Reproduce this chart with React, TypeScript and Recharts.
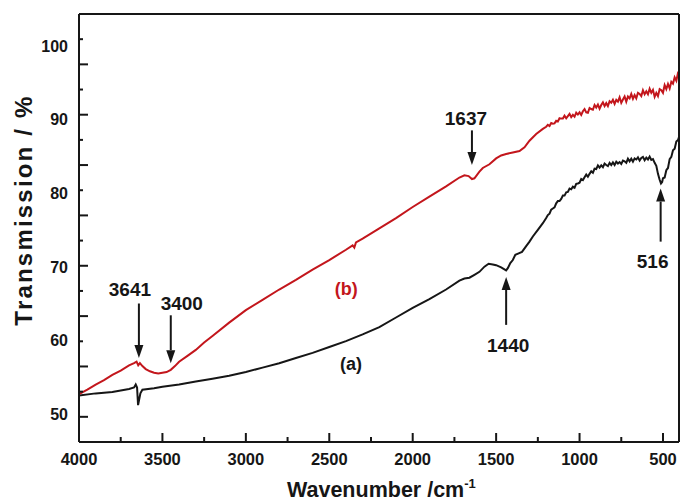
import React from 'react';
import { LineChart, Line, XAxis, YAxis, ReferenceLine, ReferenceDot } from 'recharts';

const FONT = '"Liberation Sans", Arial, Helvetica, sans-serif';
const INK = '#161616';
const RED = '#c3161c';

// wavenumber ticks (cm-1): long ticks with labels every 500, short ones between
const xTicks = [4000, 3750, 3500, 3250, 3000, 2750, 2500, 2250, 2000, 1750, 1500, 1250, 1000, 750, 500];
// transmission labels (%)
const yLabelTicks = [50, 60, 70, 80, 90, 100];
// tick marks along the left axis (own scale, long on even steps)
const yMarkTicks = [0, 1, 2, 3, 4, 5, 6, 7, 8, 9, 10, 11, 12, 13, 14, 15];

// spectrum (a): [wavenumber, transmission]
const curveA: [number, number][] = [
  [4000, 52.5], [3900, 52.8], [3800, 53.0], [3700, 53.4], [3670, 53.6], [3660, 54.0], [3652, 53.6],
  [3646, 51.2], [3640, 51.9], [3632, 52.8], [3620, 53.3], [3550, 53.5], [3500, 53.7], [3400, 54.0],
  [3300, 54.4], [3200, 54.8], [3100, 55.2], [3000, 55.7], [2900, 56.3], [2800, 56.9], [2700, 57.6],
  [2600, 58.3], [2500, 59.1], [2400, 59.9], [2300, 60.8], [2200, 61.8], [2100, 63.1], [2000, 64.4],
  [1900, 65.6], [1800, 66.9], [1720, 68.1], [1690, 68.4], [1660, 68.5], [1630, 68.9], [1600, 69.3],
  [1570, 70.0], [1545, 70.4], [1520, 70.3], [1500, 70.2], [1470, 69.9], [1440, 69.5], [1430, 69.8],
  [1415, 70.5], [1400, 70.9], [1385, 71.6], [1365, 71.8], [1345, 72.0], [1320, 72.8], [1300, 73.4],
  [1280, 74.1], [1250, 75.0], [1220, 75.9], [1200, 76.6],
  [1190, 77.0], [1180, 77.2], [1170, 77.75], [1160, 77.9], [1150, 78.05], [1140, 78.6], [1130, 78.9],
  [1120, 78.9], [1110, 79.2], [1100, 79.65], [1090, 79.65], [1080, 80.1], [1070, 80.15], [1060, 80.6],
  [1050, 80.5], [1040, 80.85], [1030, 80.7], [1020, 81.25], [1010, 81.3], [1000, 81.4], [990, 81.9],
  [980, 81.75], [970, 82.15], [960, 82.5], [950, 82.2], [940, 82.6], [930, 82.95], [920, 82.75],
  [910, 83.3], [900, 83.25], [890, 83.75], [880, 83.45], [870, 83.75], [860, 83.5], [850, 84.0],
  [840, 83.8], [830, 83.65], [820, 84.1], [810, 83.8], [800, 84.15], [790, 83.8], [780, 84.25],
  [770, 84.0], [760, 84.2], [750, 83.95], [740, 84.4], [730, 84.3], [720, 84.1], [710, 84.65],
  [700, 84.3], [690, 84.65], [680, 84.25], [670, 84.7], [660, 84.55], [650, 84.85], [640, 84.4],
  [630, 84.75], [620, 84.9], [610, 84.45], [600, 84.8], [590, 84.55], [580, 84.95], [570, 84.5],
  [560, 84.6], [550, 84.1], [540, 83.7], [530, 82.6], [520, 81.8], [512, 81.3], [505, 81.5],
  [500, 82.0], [490, 82.1], [480, 83.1], [470, 83.4], [460, 84.6], [450, 84.9], [440, 85.8],
  [430, 86.0], [420, 87.0], [410, 87.2], [404, 87.6],
];

// spectrum (b): [wavenumber, transmission]
const curveB: [number, number][] = [
  [4000, 52.7], [3950, 53.3], [3900, 54.0], [3850, 54.6], [3800, 55.3], [3750, 55.9], [3700, 56.6],
  [3670, 56.9], [3655, 57.1], [3645, 56.6], [3635, 56.9], [3620, 56.5], [3600, 56.1], [3575, 55.8],
  [3550, 55.6], [3525, 55.5], [3500, 55.6], [3475, 55.7], [3450, 56.0], [3425, 56.5], [3400, 57.1],
  [3350, 57.9], [3300, 58.7], [3250, 59.7], [3200, 60.6], [3100, 62.4], [3000, 64.1], [2900, 65.5],
  [2800, 66.9], [2700, 68.2], [2600, 69.6], [2500, 70.9], [2400, 72.3], [2360, 72.9], [2350, 72.6],
  [2340, 73.3], [2300, 73.8], [2200, 75.2], [2100, 76.6], [2000, 78.1], [1900, 79.5], [1800, 80.9],
  [1720, 82.1], [1690, 82.4], [1665, 82.3], [1645, 81.9], [1630, 82.0], [1600, 82.9], [1580, 83.4],
  [1540, 83.9], [1500, 84.7], [1470, 85.1], [1440, 85.3], [1400, 85.5], [1360, 85.7], [1330, 86.2],
  [1300, 87.1], [1260, 88.0], [1220, 88.7], [1200, 89.0],
  [1190, 89.25], [1180, 89.1], [1170, 89.5], [1160, 89.4], [1150, 89.45], [1140, 89.8], [1130, 89.7],
  [1120, 90.15], [1110, 90.1], [1100, 90.1], [1090, 90.5], [1080, 90.15], [1070, 90.45], [1060, 90.75],
  [1050, 90.3], [1040, 90.6], [1030, 90.35], [1020, 90.9], [1010, 90.65], [1000, 90.95], [990, 90.6],
  [980, 91.1], [970, 91.4], [960, 90.95], [950, 90.9], [940, 91.55], [930, 91.4], [920, 91.3],
  [910, 91.95], [900, 91.6], [890, 92.0], [880, 91.45], [870, 91.95], [860, 92.3], [850, 91.8],
  [840, 92.2], [830, 91.8], [820, 92.45], [810, 92.25], [800, 92.65], [790, 92.1], [780, 92.65],
  [770, 92.4], [760, 93.0], [750, 92.25], [740, 92.7], [730, 93.1], [720, 92.4], [710, 93.1],
  [700, 92.85], [690, 93.45], [680, 92.8], [670, 93.3], [660, 92.85], [650, 93.6], [640, 93.45],
  [630, 93.15], [620, 93.95], [610, 93.4], [600, 93.8], [590, 93.4], [580, 94.15], [570, 93.6],
  [560, 94.0], [550, 93.05], [540, 93.6], [530, 93.15], [520, 94.1], [510, 93.95], [500, 93.6],
  [490, 94.65], [480, 94.1], [470, 94.8], [460, 94.2], [450, 95.1], [440, 94.85], [430, 95.7],
  [420, 95.25], [410, 96.3], [404, 96.2],
];

// peak markers: arrow from tail to tip, text placed relative to the tail
const peaks = [
  { text: '3641', wn: 3641, tail: 65.0, tip: 57.6, dx: -9, dy: -8 },
  { text: '3400', wn: 3450, tail: 63.4, tip: 56.9, dx: 11, dy: -5 },
  { text: '1637', wn: 1645, tail: 88.5, tip: 83.8, dx: -6, dy: -5 },
  { text: '1440', wn: 1440, tail: 62.1, tip: 68.6, dx: 2, dy: 27 },
  { text: '516', wn: 514, tail: 73.4, tip: 80.6, dx: -8, dy: 26 },
];

const toRows = (pts: [number, number][]) => pts.map(([wn, t]) => ({ wn, t }));

const XTick = (props: any) => {
  const { x, y, payload } = props;
  const major = payload.value % 500 === 0;
  return (
    <g>
      <line x1={x} x2={x} y1={y} y2={y - (major ? 9 : 5)} stroke={INK} strokeWidth={2} />
      {major && (
        <text x={x} y={y + 23} textAnchor="middle" fontFamily={FONT} fontWeight="bold" fontSize={16.5} fill={INK}>
          {payload.value}
        </text>
      )}
    </g>
  );
};

const YLabelTick = (props: any) => {
  const { x, y, payload } = props;
  return (
    <text x={x - 10} y={y + 6} textAnchor="end" fontFamily={FONT} fontWeight="bold" fontSize={16} fill={INK}>
      {payload.value}
    </text>
  );
};

const YMarkTick = (props: any) => {
  const { x, y, payload } = props;
  const long = payload.value % 2 === 0;
  return <line x1={x} x2={x + (long ? 9 : 4)} y1={y} y2={y} stroke={INK} strokeWidth={2} />;
};

const arrowShape = (p: { text: string; dx: number; dy: number }) => (props: any) => {
  const { x1, y1, x2, y2 } = props;
  if (![x1, y1, x2, y2].every((v) => Number.isFinite(v))) return <g />;
  const dir = y2 > y1 ? 1 : -1;
  const head = 13;
  return (
    <g>
      <line x1={x1} y1={y1} x2={x2} y2={y2 - dir * head} stroke={INK} strokeWidth={2} />
      <polygon points={`${x2},${y2} ${x2 - 4.5},${y2 - dir * head} ${x2 + 4.5},${y2 - dir * head}`} fill={INK} />
      <text x={x1 + p.dx} y={y1 + p.dy} textAnchor="middle" fontFamily={FONT} fontWeight="bold" fontSize={19} fill={INK}>
        {p.text}
      </text>
    </g>
  );
};

const XTitle = () => (
  <text x={287} y={497} fontFamily={FONT} fontWeight="bold" fontSize={21.5} fill={INK}>
    Wavenumber /cm
    <tspan dy={-9} fontSize={13}>-1</tspan>
  </text>
);

const YTitle = () => (
  <text
    x={32}
    y={210}
    transform="rotate(-90, 32, 210)"
    textAnchor="middle"
    fontFamily={FONT}
    fontWeight="bold"
    fontSize={24}
    letterSpacing={2.2}
    fill={INK}
  >
    Transmission / %
  </text>
);

export default function App() {
  return (
    <div style={{ position: 'absolute', left: 0, top: 0, width: 681, height: 501, background: '#fff' }}>
      <LineChart width={681} height={501} margin={{ top: 13, right: 1, bottom: 29, left: 18 }}>
        <XAxis
          dataKey="wn"
          type="number"
          domain={[404, 4000]}
          reversed
          allowDataOverflow
          ticks={xTicks}
          interval={0}
          tickSize={0}
          tickMargin={0}
          tickLine={false}
          tick={<XTick />}
          height={30}
          stroke={INK}
          strokeWidth={2}
          label={{ content: <XTitle /> }}
        />
        <XAxis
          xAxisId="top"
          orientation="top"
          type="number"
          domain={[404, 4000]}
          allowDataOverflow
          ticks={[4000]}
          reversed
          height={1}
          tick={false}
          tickLine={false}
          stroke={INK}
          strokeWidth={2}
        />
        <YAxis
          yAxisId="marks"
          type="number"
          domain={[-1, 16]}
          allowDataOverflow
          ticks={yMarkTicks}
          interval={0}
          width={1}
          tickSize={0}
          tickMargin={0}
          tickLine={false}
          tick={<YMarkTick />}
          stroke={INK}
          strokeWidth={2}
        />
        <YAxis
          yAxisId="val"
          type="number"
          domain={[46.2, 104.3]}
          allowDataOverflow
          ticks={yLabelTicks}
          interval={0}
          width={60}
          tickSize={0}
          tickMargin={0}
          tickLine={false}
          axisLine={false}
          tick={<YLabelTick />}
          label={{ content: <YTitle /> }}
        />
        <YAxis
          yAxisId="frame"
          orientation="right"
          type="number"
          domain={[0, 1]}
          allowDataOverflow
          ticks={[0]}
          width={1}
          tick={false}
          tickLine={false}
          stroke={INK}
          strokeWidth={2}
        />

        <Line data={toRows(curveA)} yAxisId="val" dataKey="t" type="linear" stroke={INK} strokeWidth={2} dot={false} isAnimationActive={false} />
        <Line data={toRows(curveB)} yAxisId="val" dataKey="t" type="linear" stroke={RED} strokeWidth={2} dot={false} isAnimationActive={false} />

        {peaks.map((p) => (
          <ReferenceLine
            key={p.text}
            yAxisId="val"
            segment={[{ x: p.wn, y: p.tail }, { x: p.wn, y: p.tip }]}
            shape={arrowShape(p)}
          />
        ))}
        <ReferenceDot yAxisId="val" x={2398} y={67.0} r={0} fill="none" stroke="none"
          label={{ value: '(b)', position: 'center', fill: RED, fontFamily: FONT, fontWeight: 'bold', fontSize: 18 }} />
        <ReferenceDot yAxisId="val" x={2370} y={56.9} r={0} fill="none" stroke="none"
          label={{ value: '(a)', position: 'center', fill: INK, fontFamily: FONT, fontWeight: 'bold', fontSize: 18 }} />
      </LineChart>
    </div>
  );
}
